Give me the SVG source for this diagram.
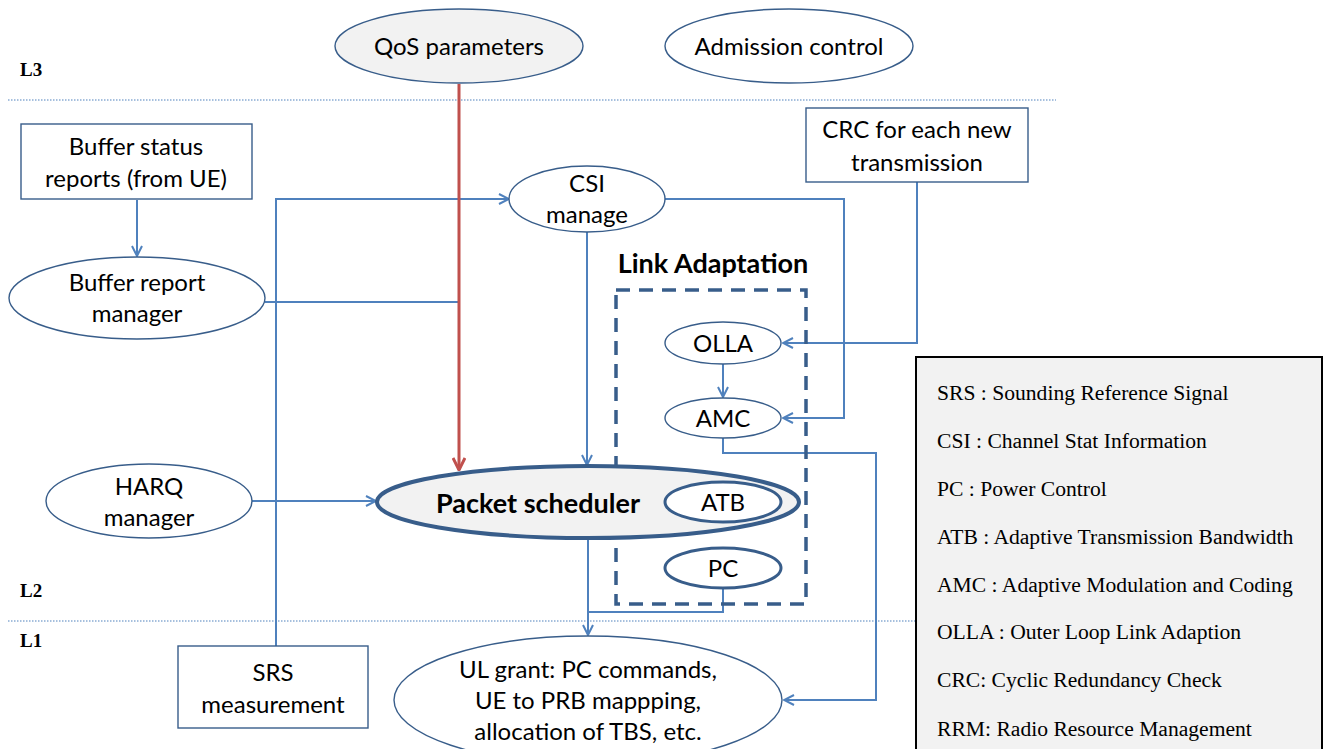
<svg xmlns="http://www.w3.org/2000/svg" width="1324" height="749" viewBox="0 0 1324 749">
<defs>
<style>
.t{font-family:Lato,"Open Sans","Liberation Sans",sans-serif;font-size:24px;fill:#000;text-anchor:middle}
.b{font-weight:bold;font-size:27px}
.lyr{font-family:"Liberation Serif",serif;font-size:19px;font-weight:bold;fill:#000}
.lg{font-family:"Liberation Serif",serif;font-size:21.6px;fill:#000}
.ln{fill:none;stroke:#4f81bd;stroke-width:2}
.dot{fill:none;stroke:#4f81bd;stroke-width:1.2;stroke-dasharray:1.5 1.5}
.el{fill:#fff;stroke:#385d8a;stroke-width:1.4}
.bx{fill:#fff;stroke:#385d8a;stroke-width:1.4}
.thick{fill:#fff;stroke:#385d8a;stroke-width:3}
</style>
<marker id="ar" viewBox="0 0 12 12" refX="11" refY="6" markerWidth="12" markerHeight="12" markerUnits="userSpaceOnUse" orient="auto">
<path d="M1,1 L11,6 L1,11" fill="none" stroke="#4f81bd" stroke-width="2"/>
</marker>
<marker id="arr" viewBox="0 0 14 14" refX="13" refY="7" markerWidth="14" markerHeight="14" markerUnits="userSpaceOnUse" orient="auto">
<path d="M1,1 L13,7 L1,13" fill="none" stroke="#c0504d" stroke-width="3"/>
</marker>
</defs>
<rect width="1324" height="749" fill="#fff"/>

<g id="layers">
<text class="lyr" x="20" y="76">L3</text>
<text class="lyr" x="20" y="597">L2</text>
<text class="lyr" x="20" y="647">L1</text>
<line class="dot" x1="8" y1="100" x2="1056" y2="100"/>
<line class="dot" x1="8" y1="621" x2="1056" y2="621"/>
</g>

<g id="connectors">
<path class="ln" d="M137,200 L137,256" marker-end="url(#ar)"/>
<path class="ln" d="M276,646 L276,199 L509,199" marker-end="url(#ar)"/>
<path class="ln" d="M265,302 L459,302"/>
<path class="ln" d="M587,232 L587,465" marker-end="url(#ar)"/>
<path class="ln" d="M665,199 L844,199 L844,418 L783,418" marker-end="url(#ar)"/>
<path class="ln" d="M917,182 L917,343 L783,343" marker-end="url(#ar)"/>
<path class="ln" d="M723,364 L723,397" marker-end="url(#ar)"/>
<path class="ln" d="M252,501 L376,501" marker-end="url(#ar)"/>
<path class="ln" d="M723,438 L723,453 L876,453 L876,700 L784,700" marker-end="url(#ar)"/>
<path class="ln" d="M588,539 L588,635" marker-end="url(#ar)"/>
<path class="ln" d="M723,588 L723,612 L588,612"/>
<path d="M459,84 L459,470" fill="none" stroke="#c0504d" stroke-width="3" marker-end="url(#arr)"/>
</g>

<g id="qos">
<ellipse cx="459" cy="46" rx="124" ry="37" fill="#f2f2f2" stroke="#385d8a" stroke-width="1.4"/>
<text class="t" x="459" y="55">QoS parameters</text>
</g>
<g id="admission">
<ellipse class="el" cx="789" cy="46" rx="124" ry="37"/>
<text class="t" x="789" y="55">Admission control</text>
</g>
<g id="buffer-status">
<rect class="bx" x="21" y="124" width="231" height="75"/>
<text class="t" x="136" y="155">Buffer status</text>
<text class="t" x="136" y="187">reports (from UE)</text>
</g>
<g id="crc">
<rect class="bx" x="806" y="108" width="222" height="74"/>
<text class="t" x="917" y="138">CRC for each new</text>
<text class="t" x="917" y="171">transmission</text>
</g>
<g id="csi">
<ellipse class="el" cx="587" cy="199" rx="78" ry="33"/>
<text class="t" x="587" y="192">CSI</text>
<text class="t" x="587" y="223">manage</text>
</g>
<g id="buffer-report">
<ellipse class="el" cx="137" cy="298" rx="128" ry="41"/>
<text class="t" x="137" y="291">Buffer report</text>
<text class="t" x="137" y="322">manager</text>
</g>
<g id="link-adaptation">
<text class="t b" x="713" y="273">Link Adaptation</text>
<rect x="616" y="290" width="190" height="314" fill="none" stroke="#385d8a" stroke-width="3.5" stroke-dasharray="14 9"/>
</g>
<g id="olla">
<ellipse class="el" cx="723" cy="343" rx="58" ry="21"/>
<text class="t" x="723" y="352">OLLA</text>
</g>
<g id="amc">
<ellipse class="el" cx="723" cy="418" rx="58" ry="20"/>
<text class="t" x="723" y="427">AMC</text>
</g>
<g id="harq">
<ellipse class="el" cx="149" cy="501" rx="103" ry="37"/>
<text class="t" x="149" y="495">HARQ</text>
<text class="t" x="149" y="526">manager</text>
</g>
<g id="packet-scheduler">
<ellipse cx="588" cy="502" rx="211" ry="36" fill="#f2f2f2" stroke="#385d8a" stroke-width="4"/>
<text class="t b" x="538" y="513">Packet scheduler</text>
</g>
<g id="atb">
<ellipse class="thick" cx="723" cy="502" rx="58" ry="20"/>
<text class="t" x="723" y="511">ATB</text>
</g>
<g id="pc">
<ellipse class="thick" cx="723" cy="568" rx="58" ry="20"/>
<text class="t" x="723" y="577">PC</text>
</g>
<g id="ul-grant">
<ellipse class="el" cx="588" cy="700" rx="194" ry="64"/>
<text class="t" x="588" y="678">UL grant: PC commands,</text>
<text class="t" x="588" y="709">UE to PRB mappping,</text>
<text class="t" x="588" y="740">allocation of TBS, etc.</text>
</g>
<g id="srs">
<rect class="bx" x="178" y="646" width="190" height="82"/>
<text class="t" x="273" y="681">SRS</text>
<text class="t" x="273" y="713">measurement</text>
</g>
<g id="legend">
<rect x="916" y="357" width="406" height="400" fill="#f2f2f2" stroke="#000" stroke-width="2"/>
<text class="lg" x="937" y="400">SRS : Sounding Reference Signal</text>
<text class="lg" x="937" y="448">CSI : Channel Stat Information</text>
<text class="lg" x="937" y="496">PC : Power Control</text>
<text class="lg" x="937" y="544">ATB : Adaptive Transmission Bandwidth</text>
<text class="lg" x="937" y="592">AMC : Adaptive Modulation and Coding</text>
<text class="lg" x="937" y="639">OLLA : Outer Loop Link Adaption</text>
<text class="lg" x="937" y="687">CRC: Cyclic Redundancy Check</text>
<text class="lg" x="937" y="736">RRM: Radio Resource Management</text>
</g>
</svg>
